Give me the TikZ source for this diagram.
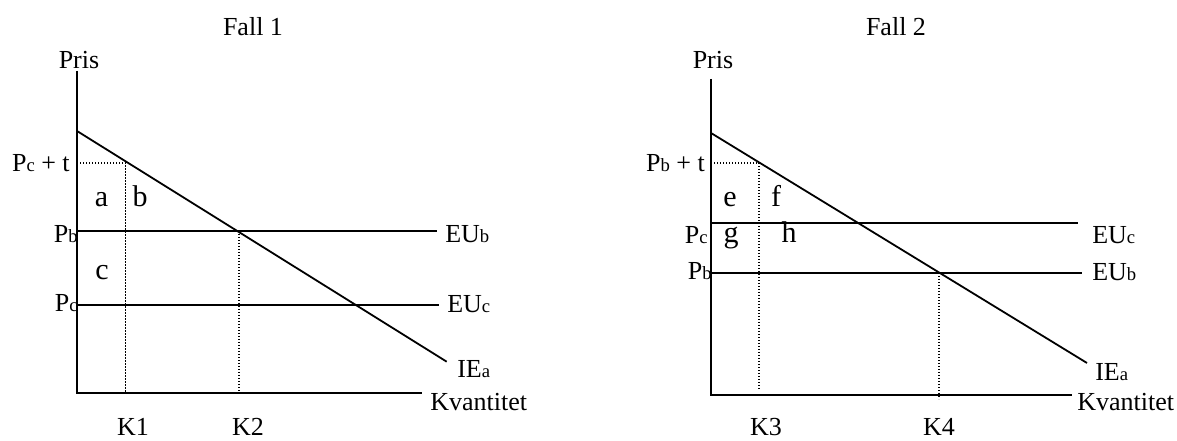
\documentclass[tikz,border=0pt]{standalone}
\usepackage{fontspec}
\setmainfont{Liberation Serif}
\usetikzlibrary{positioning}
\newcommand{\lw}[1]{{\fontsize{14}{14}\selectfont #1}}
\tikzset{
lbl/.style={ % Sets the plain labels
inner sep=0pt,
font=\fontsize{19.5}{22}\selectfont},
area/.style={ % Letters of the areas
inner sep=0pt, anchor=base,
font=\fontsize{22.5}{24}\selectfont},
axis/.style={draw, line width=1.35pt},
curve/.style={draw, line width=1.35pt},
guide/.style={draw, line width=0.9pt, dash pattern=on 0.9pt off 1.35pt}}

\begin{document}
\begin{tikzpicture}[x=0.75pt,y=-0.75pt]
\useasboundingbox (0,0) rectangle (1177,441);

% Fall 1
\coordinate (O1) at (77,393);
\coordinate (Y1) at (77,71);
\coordinate (X1) at (421.7,393);
\coordinate (D1s) at (77,131);
\coordinate (D1e) at (446.7,361.7);
\coordinate (Pb1) at (77,231);
\coordinate (EUb1) at (436.7,231);
\coordinate (Pc1) at (77,305);
\coordinate (EUc1) at (439,305);
\coordinate (Pt1) at (77,163);
\coordinate (T1) at (125.5,163);
\coordinate (K1b) at (125.5,393);
\coordinate (K2t) at (239,231);
\coordinate (K2b) at (239,393);
\node[lbl, anchor=base] (fall1) at (253,36) {Fall 1};
\node[lbl, anchor=base] (pris1) at (79,69) {Pris};
\node[lbl, anchor=base east] (pct) at (70,171.5) {P\lw{c} + t};
\node[area] (a) at (101.5,206.7) {a};
\node[area] (b) at (140,206.7) {b};
\node[area] (c) at (102,280) {c};
\node[lbl, anchor=base east] (pb1) at (78,242.5) {P\lw{b}};
\node[lbl, anchor=base east] (pc1) at (78,311.7) {P\lw{c}};
\node[lbl, anchor=base west] (eub1) at (445,243) {EU\lw{b}};
\node[lbl, anchor=base west] (euc1) at (447,312.7) {EU\lw{c}};
\node[lbl, anchor=base west] (iea1) at (457,378) {IE\lw{a}};
\node[lbl, anchor=base west] (kv1) at (430,410) {Kvantitet};
\node[lbl, anchor=base] (k1) at (133,435) {K1};
\node[lbl, anchor=base] (k2) at (248,435) {K2};
\draw[axis] (Y1) -- (O1) -- (X1);
\draw[curve] (D1s) -- (D1e);
\draw[curve] (Pb1) -- (EUb1);
\draw[curve] (Pc1) -- (EUc1);
\draw[guide] (Pt1) -- (T1) -- (K1b);
\draw[guide] (K2t) -- (K2b);

% Fall 2
\coordinate (O2) at (711,395);
\coordinate (Y2) at (711,79);
\coordinate (X2) at (1071.7,395);
\coordinate (D2s) at (711,133);
\coordinate (D2e) at (1087,363);
\coordinate (Pc2) at (711,223);
\coordinate (EUc2) at (1077.7,223);
\coordinate (Pb2) at (711,273);
\coordinate (EUb2) at (1081.7,273);
\coordinate (Pt2) at (711,163);
\coordinate (T2) at (759,163);
\coordinate (K3b) at (759,390);
\coordinate (K4t) at (939,273);
\coordinate (K4b) at (939,399);
\node[lbl, anchor=base] (fall2) at (896,36) {Fall 2};
\node[lbl, anchor=base] (pris2) at (713,69) {Pris};
\node[lbl, anchor=base east] (pbt) at (705,171.5) {P\lw{b} + t};
\node[area] (e) at (730,206.7) {e};
\node[area] (f) at (776,206.7) {f};
\node[area] (g) at (731,243) {g};
\node[area] (h) at (789,243) {h};
\node[lbl, anchor=base east] (pc2) at (708,243.3) {P\lw{c}};
\node[lbl, anchor=base east] (pb2) at (712,280) {P\lw{b}};
\node[lbl, anchor=base west] (euc2) at (1092,243.3) {EU\lw{c}};
\node[lbl, anchor=base west] (eub2) at (1092,280.7) {EU\lw{b}};
\node[lbl, anchor=base west] (iea2) at (1095,380) {IE\lw{a}};
\node[lbl, anchor=base west] (kv2) at (1077,410.7) {Kvantitet};
\node[lbl, anchor=base] (k3) at (766,435) {K3};
\node[lbl, anchor=base] (k4) at (939,435) {K4};
\draw[axis] (Y2) -- (O2) -- (X2);
\draw[curve] (D2s) -- (D2e);
\draw[curve] (Pc2) -- (EUc2);
\draw[curve] (Pb2) -- (EUb2);
\draw[guide] (Pt2) -- (T2) -- (K3b);
\draw[guide] (K4t) -- (K4b);
\end{tikzpicture}
\end{document}
